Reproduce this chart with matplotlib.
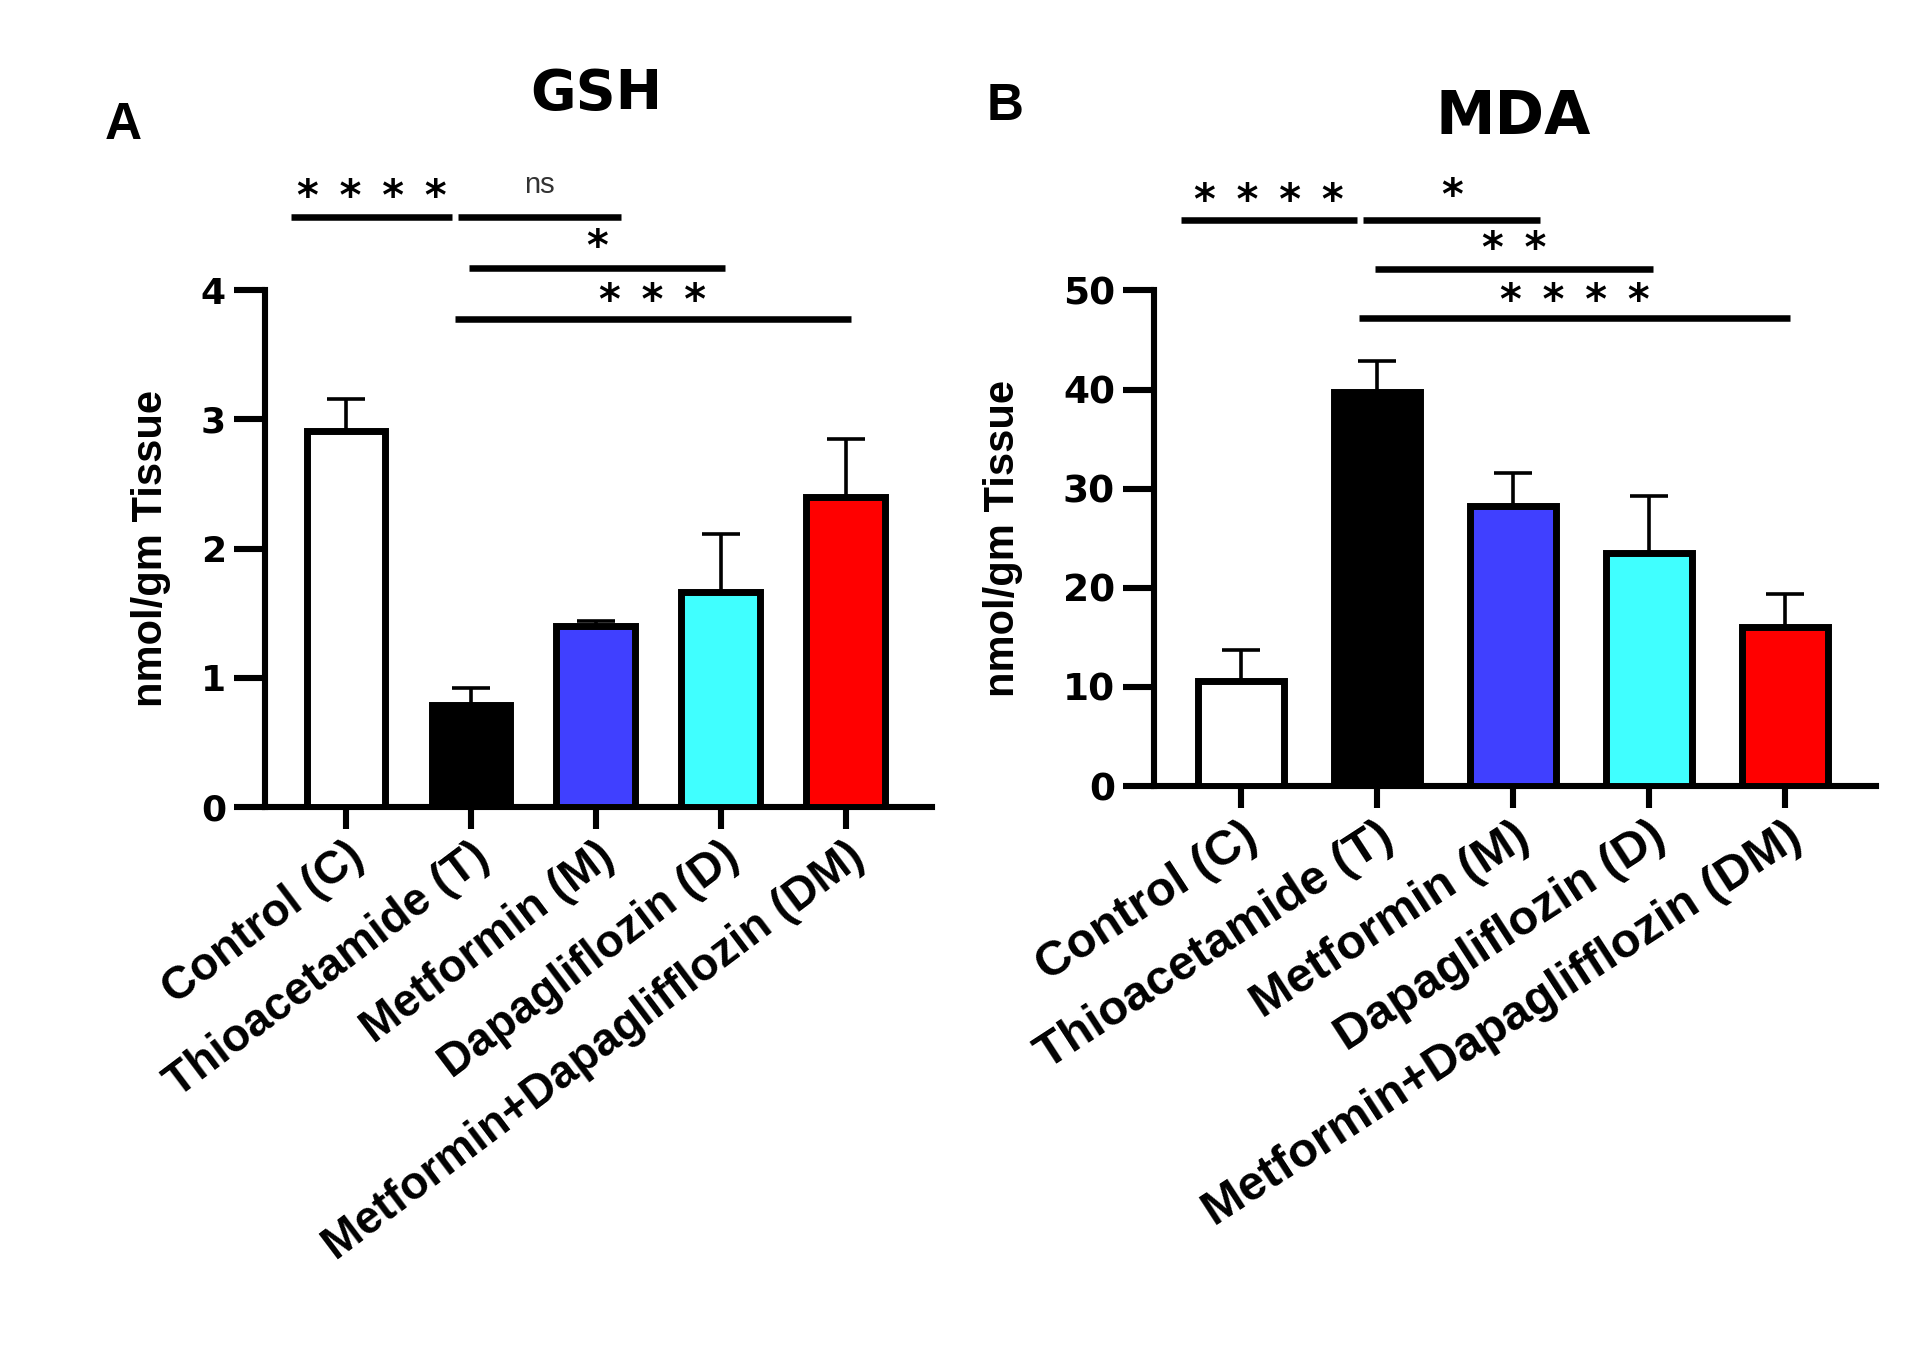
import matplotlib
matplotlib.use("Agg")
import matplotlib.pyplot as plt
from matplotlib.transforms import ScaledTranslation
import numpy as np

# ---------------- data ----------------
categories = ["Control (C)", "Thioacetamide (T)", "Metformin (M)",
              "Dapagliflozin (D)", "Metformin+Dapaglifflozin (DM)"]
bar_colors = ["#FFFFFF", "#000000", "#4040FF", "#40FFFF", "#FF0000"]

gsh_mean = [2.91, 0.79, 1.40, 1.66, 2.40]
gsh_err = [0.25, 0.13, 0.04, 0.45, 0.45]

mda_mean = [10.6, 39.8, 28.3, 23.5, 16.0]
mda_err = [3.1, 3.1, 3.3, 5.8, 3.4]

# significance: (group a, group b, label)
gsh_sig = [(0, 1, "****"), (1, 2, "ns"), (1, 3, "*"), (1, 4, "***")]
mda_sig = [(0, 1, "****"), (1, 2, "*"), (1, 3, "**"), (1, 4, "****")]

gsh_ticks = [0, 1, 2, 3, 4]
mda_ticks = [0, 10, 20, 30, 40, 50]

# ---------------- style ----------------
plt.rcParams["font.family"] = ["Liberation Sans", "DejaVu Sans"]
plt.rcParams["font.weight"] = "bold"

fig = plt.figure(figsize=(19.13, 13.48), dpi=100)

axA = fig.add_axes([0.1385, 0.4017, 0.3487, 0.3828])
axB = fig.add_axes([0.6032, 0.4169, 0.3774, 0.3676])

# bracket geometry (fraction of ymax) and x spans
bracket_levels = [1.143, 1.143, 1.043, 0.945]
text_levels = [1.195, 1.205, 1.098, 0.993]
span_pad = [(-0.44, -0.15), (-0.10, 0.20), (-0.015, 0.03), (-0.13, 0.04)]


def star_text(s):
    if set(s) == {"*"}:
        return "\u2002".join(s)
    return s


def draw_panel(ax, means, errs, ticks, ymax, sigs, ylabel, xlim, dx,
               xfs, yfs, rot):
    x = np.arange(len(categories))
    ax.bar(x, means, width=0.63, color=bar_colors, edgecolor="black",
           linewidth=5, zorder=3)
    ax.errorbar(x, means, yerr=[np.zeros(len(errs)), errs], fmt="none",
                ecolor="black", elinewidth=2.6, capsize=14, capthick=2.6,
                zorder=2)
    ax.set_xlim(*xlim)
    ax.set_ylim(0, ymax)
    ax.set_yticks(ticks)
    ax.set_yticklabels([str(t) for t in ticks], family="DejaVu Sans",
                       fontweight="bold", fontsize=yfs)
    ax.set_xticks(x)
    ax.set_xticklabels(categories, rotation=rot, ha="right", va="top",
                       rotation_mode="anchor", fontsize=xfs,
                       fontweight="bold")
    for lab in ax.get_xticklabels():
        lab.set_transform(lab.get_transform() +
                          ScaledTranslation(dx, -0.02, fig.dpi_scale_trans))
    for spine in ["top", "right"]:
        ax.spines[spine].set_visible(False)
    ax.spines["left"].set_linewidth(4.4)
    ax.spines["bottom"].set_linewidth(4.4)
    ax.tick_params(axis="y", length=22, width=4.4, pad=6)
    ax.tick_params(axis="x", length=16, width=4.4, pad=4)
    ax.set_ylabel(ylabel, fontsize=30, fontweight="bold", va="center")

    for k, (a, b, lab) in enumerate(sigs):
        x0 = a + span_pad[k][0]
        x1 = b + span_pad[k][1]
        yl = bracket_levels[k] * ymax
        ax.plot([x0, x1], [yl, yl], color="black", lw=4.7,
                solid_capstyle="butt", clip_on=False)
        yt = text_levels[k] * ymax
        if lab == "ns":
            ax.annotate(lab, xy=((x0 + x1) / 2, yt), ha="center",
                        va="center", fontsize=21, fontweight="normal",
                        color="#333333", annotation_clip=False)
        else:
            ax.annotate(star_text(lab), xy=((x0 + x1) / 2, yt),
                        xytext=(0, -6), textcoords="offset points",
                        ha="center", va="center", fontsize=30,
                        fontweight="bold", family="DejaVu Sans",
                        annotation_clip=False)


draw_panel(axA, gsh_mean, gsh_err, gsh_ticks, 4, gsh_sig,
           "nmol/gm Tissue", (-0.648, 4.69), 0.05, 33, 26, 37)
draw_panel(axB, mda_mean, mda_err, mda_ticks, 50, mda_sig,
           "nmol/gm Tissue", (-0.64, 4.67), 0.06, 35, 27, 33)
axA.yaxis.set_label_coords(-0.171, 0.5)
axB.yaxis.set_label_coords(-0.209, 0.5)

fig.text(0.3115, 0.930, "GSH", fontsize=40, fontweight="bold",
         family="DejaVu Sans", ha="center", va="center")
fig.text(0.791, 0.913, "MDA", fontsize=43, fontweight="bold",
         family="DejaVu Sans", ha="center", va="center")

fig.text(0.0549, 0.907, "A", fontsize=37, fontweight="bold", ha="left",
         va="center")
fig.text(0.516, 0.921, "B", fontsize=37, fontweight="bold", ha="left",
         va="center")

fig.savefig("out.png", dpi=100, facecolor="white")
